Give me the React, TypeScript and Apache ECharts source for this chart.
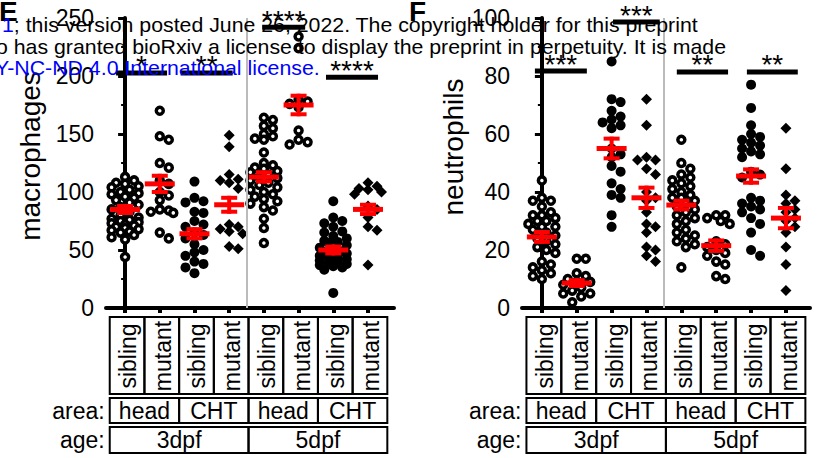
import React, { useEffect, useRef } from "react";
import * as echarts from "echarts";

const FONT = "'Liberation Sans', Arial, Helvetica, sans-serif";

// ---- categories ----
const conditions = ["sibling", "mutant", "sibling", "mutant", "sibling", "mutant", "sibling", "mutant"];
const areas = ["head", "CHT", "head", "CHT"];
const ages = ["3dpf", "5dpf"];
const markerKinds = ["ring", "ring", "dot", "diamond", "ring", "ring", "dot", "diamond"];

// ---- panel E: macrophages ----
const macHead3Sib = [113, 110, 108, 107, 105, 104, 102, 100, 99, 98, 96, 95, 93, 91, 89, 87, 85, 83, 80, 78, 77, 76, 75, 74, 73, 72, 71, 70, 69, 68, 67, 66, 65, 63, 61, 59, 44];
const macHead3Mut = [170, 148, 145, 125, 121, 110, 107, 100, 97, 93, 85, 84, 83, 82, 65, 60];
const macCHT3Sib = [109, 95, 92, 91, 83, 82, 75, 72, 70, 65, 63, 60, 55, 50, 48, 45, 40, 38, 35, 30];
const macCHT3Mut = [149, 139, 115, 111, 110, 108, 103, 72, 70, 68, 66, 64, 53, 51];
const macHead5Sib = [164, 162, 157, 155, 150, 148, 146, 145, 134, 125, 123, 121, 120, 118, 117, 115, 113, 112, 110, 108, 106, 104, 102, 100, 98, 96, 94, 92, 90, 87, 84, 77, 69, 56];
const macHead5Mut = [234, 224, 180, 178, 176, 173, 153, 145, 143, 141];
const macCHT5Sib = [92, 78, 75, 73, 70, 66, 65, 62, 60, 58, 57, 56, 54, 52, 50, 49, 48, 47, 46, 45, 44, 43, 42, 41, 40, 39, 38, 37, 36, 35, 33, 13];
const macCHT5Mut = [108, 105, 103, 102, 100, 98, 88, 85, 78, 70, 67, 37];
const macMean = [85, 107, 64, 89, 113, 175, 50, 85];
const macSem = [3, 7, 4, 6, 4, 8, 3, 4];
const macTicks = [0, 50, 100, 150, 200, 250];
const macSigFrom = [-0.26, 1.6, 3.95, 5.79];
const macSigTo = [1.21, 3.1, 5.19, 7.29];
const macSigY = [202.6, 202.6, 242, 199];
const macSigText = ["*", "**", "****", "****"];

// ---- panel F: neutrophils ----
const neuHead3Sib = [44, 38, 37, 37, 35, 33, 32, 32, 31, 30, 30, 29, 28, 28, 27, 26, 25, 24, 23, 22, 21, 20, 19, 16, 15, 14, 13, 12, 11, 10];
const neuHead3Mut = [17, 17, 12, 11, 10, 9, 9, 8, 7, 6, 5, 5, 4, 2];
const neuCHT3Sib = [85, 72, 71, 68, 66, 65, 64, 63, 62, 55, 53, 52, 49, 47, 43, 41, 39, 38, 32, 28];
const neuCHT3Mut = [72, 63, 52, 51, 51, 48, 46, 40, 38, 37, 33, 29, 28, 26, 21, 20, 18, 16];
const neuHead5Sib = [58, 50, 48, 46, 45, 44, 43, 42, 41, 40, 39, 38, 38, 37, 36, 35, 34, 33, 32, 31, 30, 29, 27, 26, 25, 24, 23, 22, 21, 14];
const neuHead5Mut = [32, 32, 31, 30, 29, 23, 22, 21, 20, 19, 18, 16, 15, 11, 10];
const neuCHT5Sib = [77, 69, 63, 60, 59, 58, 57, 56, 55, 54, 53, 52, 47, 46, 45, 38, 37, 36, 35, 34, 33, 31, 29, 26, 20, 18];
const neuCHT5Mut = [62, 48, 39, 37, 36, 34, 33, 31, 30, 28, 26, 21, 15, 6];
const neuMean = [24.5, 8.6, 55, 38, 35.5, 21.5, 45.5, 31];
const neuSem = [1.7, 1, 3.4, 3.5, 1.5, 1.8, 2.3, 3.5];
const neuTicks = [0, 20, 40, 60, 80, 100];
const neuSigFrom = [-0.2, 2.04, 3.87, 5.88];
const neuSigTo = [1.29, 3.38, 5.34, 7.34];
const neuSigY = [81.7, 98.6, 81.4, 81.4];
const neuSigText = ["***", "***", "**", "**"];

const panels = [
  {
    title: "macrophages", letter: "E",
    groups: [macHead3Sib, macHead3Mut, macCHT3Sib, macCHT3Mut, macHead5Sib, macHead5Mut, macCHT5Sib, macCHT5Mut],
    mean: macMean, sem: macSem, ticks: macTicks,
    sigFrom: macSigFrom, sigTo: macSigTo, sigY: macSigY, sigText: macSigText,
    grid: { left: 106, right: 423, top: 18, bottom: 150 },
    xMin: -0.55, xMax: 7.75, nameGap: 62, namePad: 14,
  },
  {
    title: "neutrophils", letter: "F",
    groups: [neuHead3Sib, neuHead3Mut, neuCHT3Sib, neuCHT3Mut, neuHead5Sib, neuHead5Mut, neuCHT5Sib, neuCHT5Mut],
    mean: neuMean, sem: neuSem, ticks: neuTicks,
    sigFrom: neuSigFrom, sigTo: neuSigTo, sigY: neuSigY, sigText: neuSigText,
    grid: { left: 522, right: 7, top: 18, bottom: 150 },
    xMin: -0.57, xMax: 7.69, nameGap: 52, namePad: 32,
  },
];

const MARK = 10;

function swarm(chart: any, p: number, i: number, vals: number[]) {
  const sorted = [...vals].sort((a, b) => b - a);
  const cx = chart.convertToPixel({ gridIndex: p }, [i, 0])[0];
  const placed: number[][] = [];
  const step = MARK * 0.45;
  const minD = MARK * 0.75;
  const maxK = Math.floor(14 / step) * 2;
  const out: number[][] = [];
  for (const v of sorted) {
    const py = chart.convertToPixel({ gridIndex: p }, [i, v])[1];
    let best = 0;
    let bestOv = Infinity;
    for (let k = 0; k <= maxK; k++) {
      const off = (k % 2 === 1 ? 1 : -1) * Math.ceil(k / 2) * step;
      let ov = 0;
      for (const q of placed) {
        const d = Math.hypot(q[0] - (cx + off), q[1] - py);
        if (d < minD) ov += minD - d;
      }
      if (ov === 0) { best = off; bestOv = 0; break; }
      if (ov < bestOv - 0.5) { bestOv = ov; best = off; }
    }
    placed.push([cx + best, py]);
    const xv = chart.convertFromPixel({ gridIndex: p }, [cx + best, py])[0];
    out.push([xv, v]);
  }
  return out;
}

export default function App() {
  const ref = useRef<HTMLDivElement>(null);
  useEffect(() => {
    document.body.style.margin = "0";
    const chart = echarts.init(ref.current!, null, { renderer: "svg" });
    const base: any = {
      animation: false,
      backgroundColor: "#fff",
      grid: panels.map((p) => ({ ...p.grid })),
      xAxis: panels.map((p, k) => ({
        type: "value", gridIndex: k, min: p.xMin, max: p.xMax,
        axisLine: { show: true, onZero: false, lineStyle: { color: "#000", width: 4 } },
        axisTick: { show: true, customValues: [0, 1, 2, 3, 4, 5, 6, 7], length: 5, lineStyle: { color: "#000", width: 4 } },
        axisLabel: { show: false },
        splitLine: { show: false },
      })),
      yAxis: panels.map((p, k) => ({
        type: "value", gridIndex: k, min: 0, max: p.ticks[p.ticks.length - 1], interval: p.ticks[1] - p.ticks[0],
        name: p.title, nameLocation: "middle", nameGap: p.nameGap,
        nameTextStyle: { fontSize: 28, fontFamily: FONT, color: "#000", padding: [0, 0, 0, p.namePad] },
        axisLine: { show: true, lineStyle: { color: "#000", width: 4 } },
        axisTick: { show: true, length: 7, lineStyle: { color: "#000", width: 3 } },
        minorTick: { show: true, splitNumber: 2, length: 4, lineStyle: { color: "#000", width: 2 } },
        axisLabel: { fontSize: 23, fontFamily: FONT, color: "#000", margin: 12 },
        splitLine: { show: false },
      })),
    };
    chart.setOption(base);

    const series: any[] = [];
    panels.forEach((p, k) => {
      p.groups.forEach((vals, i) => {
        const kind = markerKinds[i];
        const s: any = {
          type: "scatter", xAxisIndex: k, yAxisIndex: k, z: 2,
          data: swarm(chart, k, i, vals),
        };
        if (kind === "ring") {
          s.symbol = "circle"; s.symbolSize = 7;
          s.itemStyle = { color: "#fff", borderColor: "#000", borderWidth: 3.5, opacity: 1 };
        } else if (kind === "dot") {
          s.symbol = "circle"; s.symbolSize = 10;
          s.itemStyle = { color: "#000", opacity: 1 };
        } else {
          s.symbol = "diamond"; s.symbolSize = 11;
          s.itemStyle = { color: "#000", opacity: 1 };
        }
        if (i === 0) {
          s.markLine = {
            silent: true, symbol: "none", label: { show: false },
            lineStyle: { color: "#bbb", width: 2, type: "solid" },
            data: [{ xAxis: 3.5 }],
          };
        }
        series.push(s);
      });
      series.push({
        type: "custom", xAxisIndex: k, yAxisIndex: k, z: 5, clip: false,
        data: p.mean.map((m, i) => [i, m, p.sem[i]]),
        encode: { x: 0, y: 1 },
        renderItem: (params: any, api: any) => {
          const x = api.value(0), m = api.value(1), s = api.value(2);
          const c = api.coord([x, m]);
          const t = api.coord([x, m + s]);
          const b = api.coord([x, m - s]);
          const red = "#ff0000";
          return {
            type: "group",
            children: [
              { type: "rect", shape: { x: c[0] - 2, y: t[1] - 2, width: 4, height: b[1] - t[1] + 4 }, style: { fill: red } },
              { type: "rect", shape: { x: c[0] - 8, y: t[1] - 2, width: 16, height: 4 }, style: { fill: red } },
              { type: "rect", shape: { x: c[0] - 8, y: b[1] - 2, width: 16, height: 4 }, style: { fill: red } },
              { type: "rect", shape: { x: c[0] - 15, y: c[1] - 2.5, width: 30, height: 5 }, style: { fill: red } },
            ],
          };
        },
      });
      series.push({
        type: "custom", xAxisIndex: k, yAxisIndex: k, z: 6, clip: false,
        data: p.sigFrom.map((f, i) => [f, p.sigTo[i], p.sigY[i]]),
        encode: { x: [0, 1], y: 2 },
        renderItem: (params: any, api: any) => {
          const a = api.coord([api.value(0), api.value(2)]);
          const b = api.coord([api.value(1), api.value(2)]);
          return {
            type: "group",
            children: [
              { type: "rect", shape: { x: a[0], y: a[1] - 2.5, width: b[0] - a[0], height: 5 }, style: { fill: "#000" } },
              {
                type: "text", x: (a[0] + b[0]) / 2, y: a[1] + 7,
                style: { text: p.sigText[params.dataIndex], fill: "#000", fontSize: 28, fontFamily: FONT, align: "center", verticalAlign: "bottom" },
              },
            ],
          };
        },
      });
    });

    // category table below the axes
    const graphic: any[] = [];
    const txt = (x: number, y: number, text: string, align = "center", rot = 0, size = 22) => ({
      type: "text", x, y, rotation: rot,
      style: { text, fill: "#000", fontSize: size, fontFamily: FONT, align, verticalAlign: "middle" },
    });
    const box = (x0: number, x1: number, y0: number, h: number) => ({
      type: "rect", shape: { x: x0, y: y0, width: x1 - x0, height: h },
      style: { fill: "none", stroke: "#000", lineWidth: 2 },
    });
    panels.forEach((p, k) => {
      const e: number[] = [];
      for (let j = 0; j <= 8; j++) e.push(chart.convertToPixel({ gridIndex: k }, [j - 0.5, 0])[0] + 2);
      conditions.forEach((c, i) => {
        graphic.push(box(e[i], e[i + 1], 317, 77));
        graphic.push(txt((e[i] + e[i + 1]) / 2 + 1, 356, c, "center", Math.PI / 2, 23));
      });
      areas.forEach((a, j) => {
        graphic.push(box(e[2 * j], e[2 * j + 2], 398, 25));
        graphic.push(txt((e[2 * j] + e[2 * j + 2]) / 2, 411, a, "center", 0, 23));
      });
      ages.forEach((a, j) => {
        graphic.push(box(e[4 * j], e[4 * j + 4], 427, 26));
        graphic.push(txt((e[4 * j] + e[4 * j + 4]) / 2, 440, a, "center", 0, 23));
      });
      graphic.push(txt(e[0] - 5, 411, "area:", "right", 0, 23));
      graphic.push(txt(e[0] - 5, 440, "age:", "right", 0, 23));
      graphic.push({
        type: "text", x: k === 0 ? -1 : 409, y: -3, z: 50,
        style: { text: p.letter, fill: "#000", fontSize: 28, fontWeight: "bold", fontFamily: FONT, align: "left", verticalAlign: "top" },
      });
    });
    // bioRxiv watermark overlay
    graphic.push({
      type: "text", x: 2, y: 25, z: 100, scaleX: 1.065,
      style: {
        text: "{b|1}{k|; this version posted June 26, 2022. The copyright holder for this preprint}",
        fontSize: 20, fontFamily: FONT, verticalAlign: "middle", align: "left",
        rich: { b: { fill: "#0000ff", fontSize: 20, fontFamily: FONT }, k: { fill: "#000", fontSize: 20, fontFamily: FONT } },
      },
    });
    graphic.push({
      type: "text", x: -4, y: 47, z: 100, scaleX: 1.065,
      style: { text: "o has granted bioRxiv a license to display the preprint in perpetuity. It is made", fill: "#000", fontSize: 20, fontFamily: FONT, verticalAlign: "middle", align: "left" },
    });
    graphic.push({
      type: "text", x: -5, y: 68, z: 100, scaleX: 1.065,
      style: { text: "Y-NC-ND 4.0 International license.", fill: "#0000ff", fontSize: 20, fontFamily: FONT, verticalAlign: "middle", align: "left" },
    });

    chart.setOption({ series, graphic });
    return () => chart.dispose();
  }, []);
  return <div ref={ref} style={{ position: "fixed", left: 0, top: 0, width: 817, height: 458 }} />;
}
